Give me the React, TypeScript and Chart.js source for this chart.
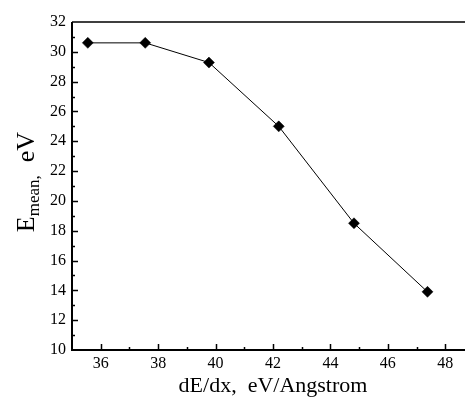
import React, { useEffect, useRef } from "react";
import { Chart, registerables } from "chart.js";

Chart.register(...registerables);

const dEdx = [35.55, 37.55, 39.77, 42.2, 44.82, 47.38];
const eMean = [30.6, 30.6, 29.28, 25.0, 18.5, 13.9];
const xTickValues = [36, 38, 40, 42, 44, 46, 48];
const yTickValues = [10, 12, 14, 16, 18, 20, 22, 24, 26, 28, 30, 32];
const xTitle = "dE/dx,  eV/Angstrom";
const yTitleMain = "E";
const yTitleSub = "mean,";
const yTitleTail = "  eV";

const FONT = "'Liberation Serif', 'Times New Roman', serif";

const frameAndTicks = {
  id: "frameAndTicks",
  afterDraw(chart: any) {
    const { ctx, chartArea } = chart;
    const xs = chart.scales.x;
    const ys = chart.scales.y;
    ctx.save();
    ctx.strokeStyle = "#000";
    // frame
    ctx.lineWidth = 1.5;
    ctx.beginPath();
    ctx.moveTo(chartArea.left, chartArea.top);
    ctx.lineTo(chartArea.right, chartArea.top);
    ctx.lineTo(chartArea.right, chartArea.bottom);
    ctx.stroke();
    ctx.lineWidth = 2;
    ctx.beginPath();
    ctx.moveTo(chartArea.left, chartArea.top);
    ctx.lineTo(chartArea.left, chartArea.bottom);
    ctx.lineTo(chartArea.right, chartArea.bottom);
    ctx.stroke();
    // ticks (inward)
    ctx.lineWidth = 1.5;
    ctx.beginPath();
    for (let v = 36; v <= 48; v += 1) {
      const px = Math.round(xs.getPixelForValue(v)) + 0.5;
      const len = v % 2 === 0 ? 6 : 3;
      ctx.moveTo(px, chartArea.bottom);
      ctx.lineTo(px, chartArea.bottom - len);
    }
    for (let v = 11; v < 32; v += 1) {
      const py = Math.round(ys.getPixelForValue(v)) + 0.5;
      const len = v % 2 === 0 ? 6 : 3;
      ctx.moveTo(chartArea.left, py);
      ctx.lineTo(chartArea.left + len, py);
    }
    ctx.stroke();
    // titles
    ctx.fillStyle = "#000";
    ctx.font = `22px ${FONT}`;
    ctx.textAlign = "center";
    ctx.textBaseline = "alphabetic";
    ctx.fillText(xTitle, (chartArea.left + chartArea.right) / 2, 392);

    ctx.textAlign = "left";
    const mainFont = `26px ${FONT}`;
    const subFont = `17px ${FONT}`;
    ctx.font = mainFont;
    const wE = ctx.measureText(yTitleMain).width;
    const wT = ctx.measureText(yTitleTail).width;
    ctx.font = subFont;
    const wS = ctx.measureText(yTitleSub).width;
    const total = wE + wS + wT;
    const cy = (chartArea.top + chartArea.bottom) / 2 - 4;
    ctx.translate(34, cy + total / 2);
    ctx.rotate(-Math.PI / 2);
    ctx.font = mainFont;
    ctx.fillText(yTitleMain, 0, 0);
    ctx.font = subFont;
    ctx.fillText(yTitleSub, wE, 5);
    ctx.font = mainFont;
    ctx.fillText(yTitleTail, wE + wS, 0);
    ctx.restore();
  },
};

export default function App() {
  const canvasRef = useRef<HTMLCanvasElement | null>(null);
  useEffect(() => {
    if (!canvasRef.current) return;
    const chart = new Chart(canvasRef.current, {
      type: "scatter",
      data: {
        datasets: [
          {
            data: dEdx.map((x, i) => ({ x, y: eMean[i] })),
            showLine: true,
            borderColor: "#000",
            borderWidth: 1,
            backgroundColor: "#000",
            pointStyle: "rectRot",
            pointRadius: 5.5,
            pointBorderWidth: 0.5,
            pointBorderColor: "#000",
            pointBackgroundColor: "#000",
            tension: 0,
          },
        ],
      },
      options: {
        animation: false,
        responsive: true,
        maintainAspectRatio: false,
        layout: { padding: { top: 22, right: 4, left: 0, bottom: 0 } },
        plugins: { legend: { display: false }, tooltip: { enabled: false } },
        scales: {
          x: {
            type: "linear",
            min: 35,
            max: 49,
            grid: { display: false, drawTicks: false },
            border: { display: false },
            afterBuildTicks: (s: any) => {
              s.ticks = xTickValues.map((v) => ({ value: v }));
            },
            afterFit: (s: any) => {
              s.height = 47;
            },
            ticks: {
              color: "#000",
              font: { family: FONT, size: 16 },
              padding: 4,
              maxRotation: 0,
              autoSkip: false,
            },
          },
          y: {
            type: "linear",
            min: 10,
            max: 32,
            grid: { display: false, drawTicks: false },
            border: { display: false },
            afterBuildTicks: (s: any) => {
              s.ticks = yTickValues.map((v) => ({ value: v }));
            },
            afterFit: (s: any) => {
              s.width = 72;
            },
            ticks: {
              color: "#000",
              font: { family: FONT, size: 16 },
              padding: 6,
              autoSkip: false,
            },
          },
        },
      },
      plugins: [frameAndTicks],
    });
    return () => chart.destroy();
  }, []);
  return (
    <div
      style={{
        position: "absolute",
        left: 0,
        top: 0,
        width: 465,
        height: 397,
        overflow: "hidden",
        background: "#fff",
      }}
    >
      <div style={{ position: "relative", width: 480, height: 397 }}>
        <canvas ref={canvasRef} />
      </div>
    </div>
  );
}
